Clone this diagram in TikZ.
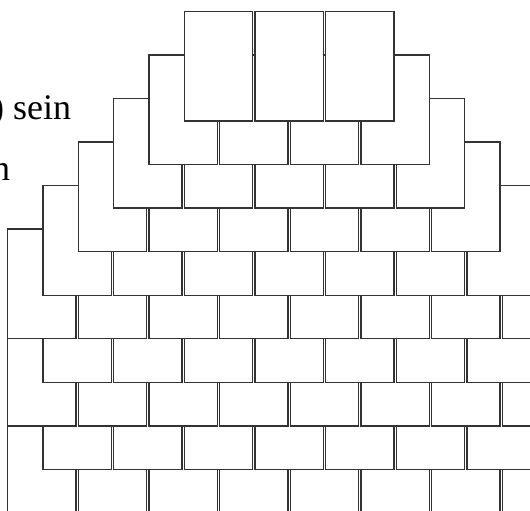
\documentclass[tikz,border=0pt]{standalone}
\usepackage{fontspec}
\setmainfont{Liberation Serif}
\begin{document}
\begin{tikzpicture}[x=1pt,y=-1pt,
  brick/.style={draw=black!80, fill=white, line width=1.4pt},
  txt/.style={anchor=base west, inner sep=0pt, font=\fontsize{36}{36}\selectfont}]
\useasboundingbox (0,0) rectangle (530,511);
\clip (0,0) rectangle (530,511);
\node[txt] (t1) at (-8,119) {) sein};
\node[txt] (t2) at (-8,180) {n};
\foreach \k/\L/\n in {10/43/7, 9/7.7/8, 8/43/7, 7/7.7/8, 6/43/7, 5/7.7/8, 4/43/7, 3/78.3/6, 2/113.65/5, 1/149/4, 0/184.3/3} {
  \pgfmathsetmacro\top{11.3+43.55*\k}
  \foreach \j in {1,...,\n} {
    \pgfmathsetmacro\xx{\L+70.65*(\j-1)}
    \draw[brick] (\xx,\top) rectangle ++(68.4,109.7);
  }
}
\end{tikzpicture}
\end{document}
